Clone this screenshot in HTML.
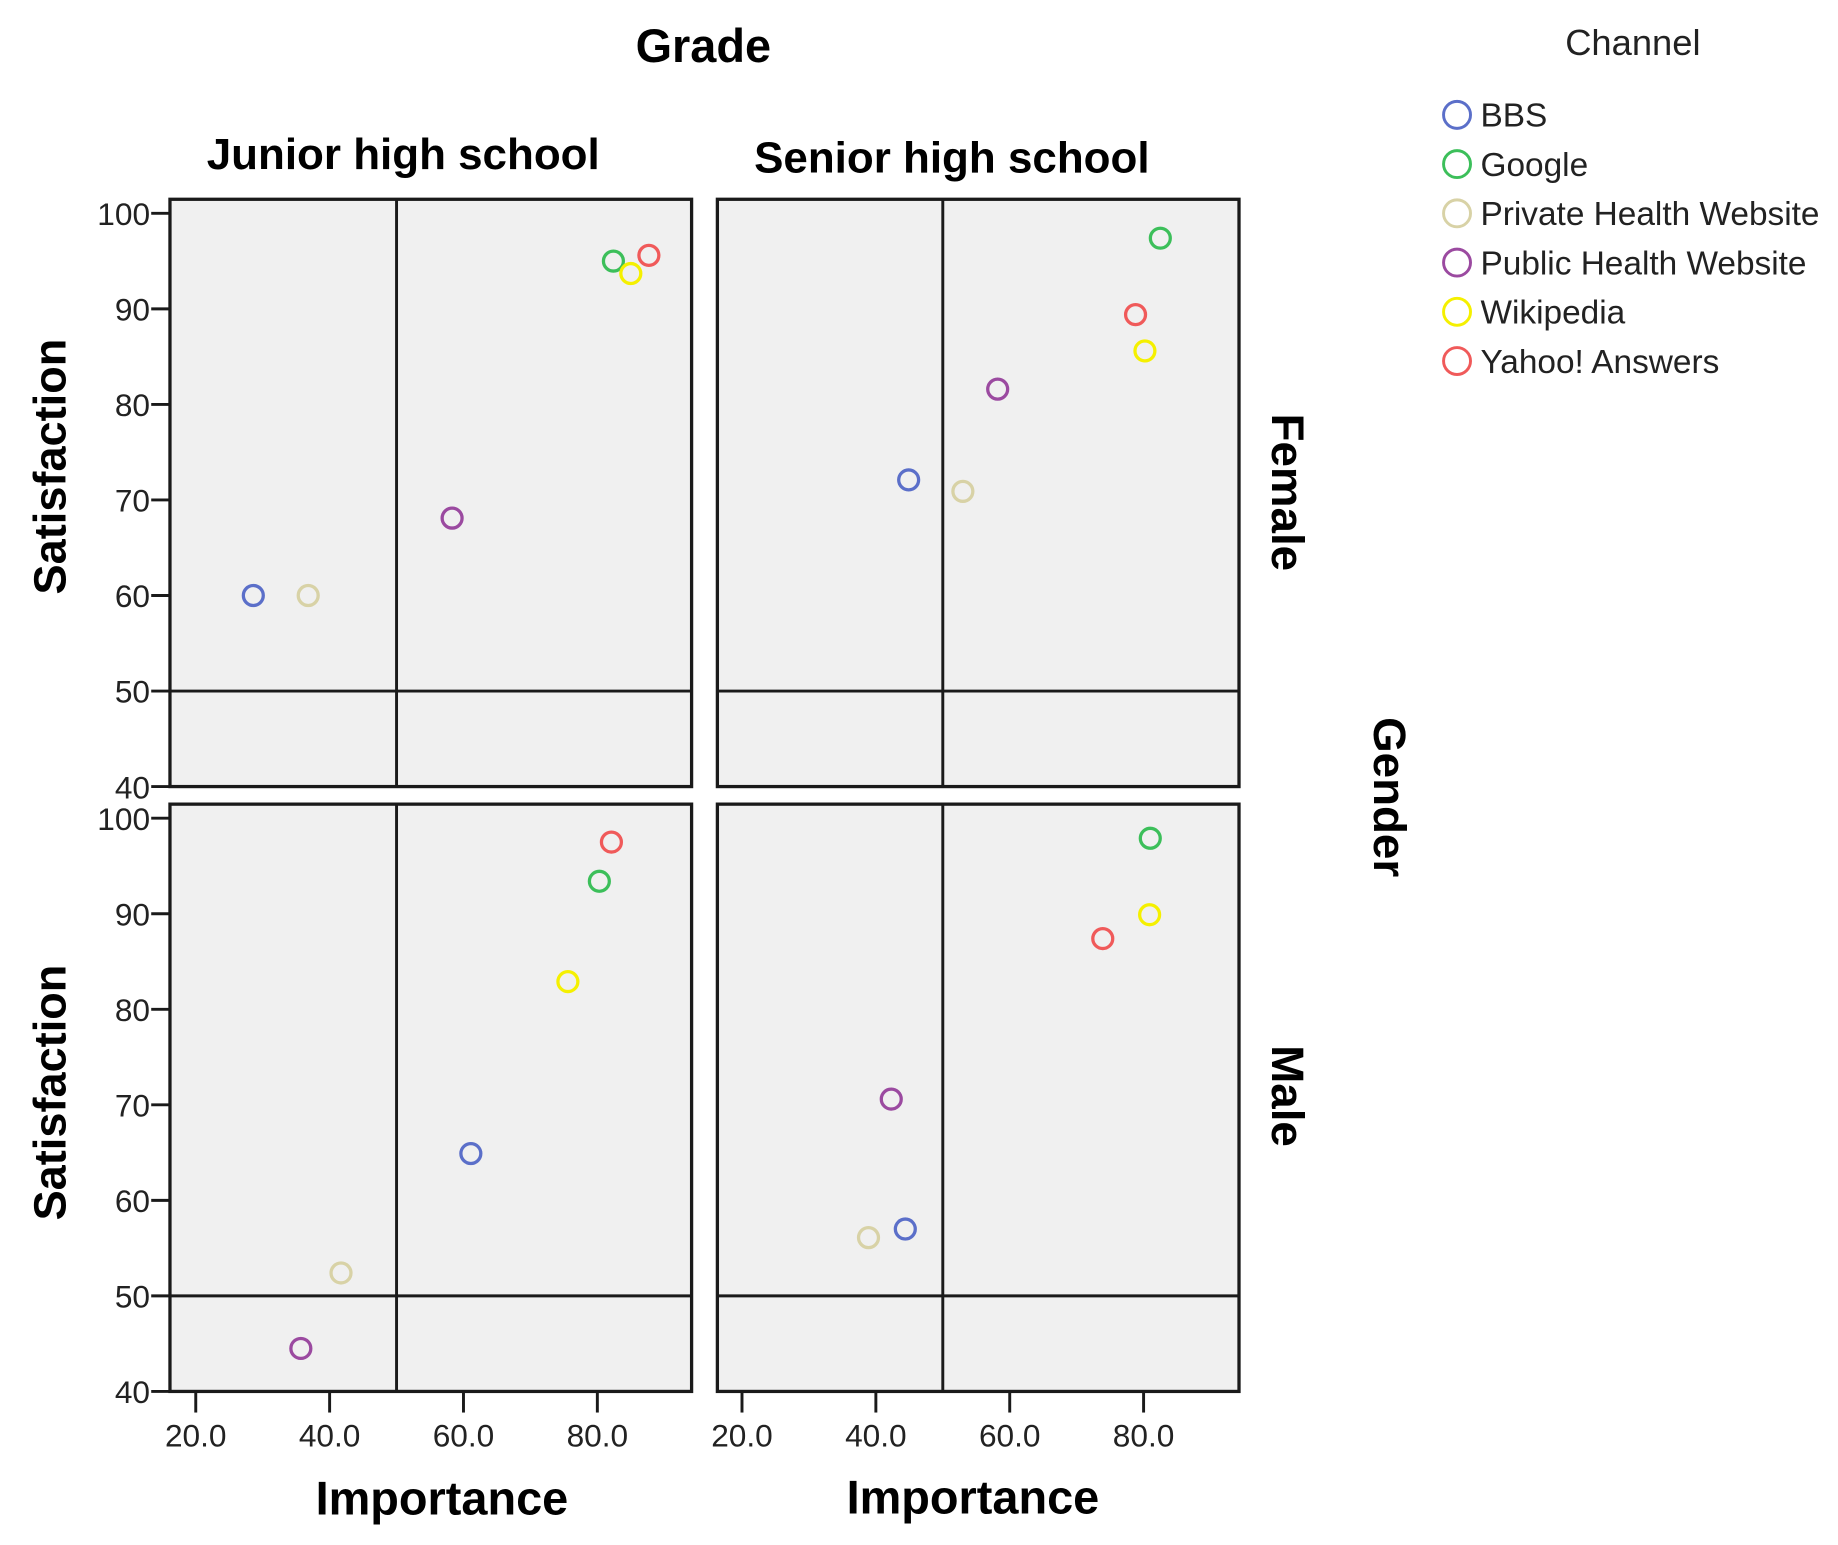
<!DOCTYPE html>
<html><head><meta charset="utf-8"><style>
html,body{margin:0;padding:0;background:#fff;}
svg{display:block;}
text{font-family:"Liberation Sans",sans-serif;}
</style></head><body>
<svg id="chart" width="1838" height="1545" viewBox="0 0 1568 1318" preserveAspectRatio="none" xmlns="http://www.w3.org/2000/svg">
<text x="600" y="53" font-size="40" font-weight="bold" text-anchor="middle">Grade</text>
<text x="344" y="144" font-size="37.5" font-weight="bold" text-anchor="middle">Junior high school</text>
<text x="812" y="147" font-size="37.5" font-weight="bold" text-anchor="middle">Senior high school</text>
<text transform="translate(1085,420) rotate(90)" font-size="39" font-weight="bold" text-anchor="middle">Female</text>
<text transform="translate(1085,935) rotate(90)" font-size="39" font-weight="bold" text-anchor="middle">Male</text>
<text transform="translate(1172,680) rotate(90)" font-size="39" font-weight="bold" text-anchor="middle">Gender</text>
<text transform="translate(56,398) rotate(-90)" font-size="38.5" font-weight="bold" text-anchor="middle">Satisfaction</text>
<text transform="translate(56,932) rotate(-90)" font-size="38.5" font-weight="bold" text-anchor="middle">Satisfaction</text>
<text x="377" y="1292" font-size="40" font-weight="bold" text-anchor="middle">Importance</text>
<text x="830" y="1291" font-size="40" font-weight="bold" text-anchor="middle">Importance</text>
<text x="1393" y="47" font-size="31" text-anchor="middle" fill="#222">Channel</text>
<g id="legend"></g>
<g id="panels"></g>
</svg>
<script>
const channels = ["BBS","Google","Private Health Website","Public Health Website","Wikipedia","Yahoo! Answers"];
const colors = ["#5b6fc9","#3cbf5a","#d8d2a6","#9b4aa0","#f5f000","#f05a5a"];
const xTicks = [20,40,60,80];
const xTickLabels = ["20.0","40.0","60.0","80.0"];
const yTicks = [40,50,60,70,80,90,100];
// order per channel: BBS, Google, Private, Public, Wikipedia, Yahoo
const juniorFemaleX = [28.6,82.4,36.8,58.3,85.0,87.7];
const juniorFemaleY = [60.0,95.0,60.0,68.1,93.7,95.6];
const seniorFemaleX = [44.9,82.5,53.0,58.2,80.2,78.8];
const seniorFemaleY = [72.1,97.4,70.9,81.6,85.6,89.4];
const juniorMaleX = [61.1,80.3,41.7,35.7,75.6,82.1];
const juniorMaleY = [64.9,93.4,52.4,44.5,82.9,97.5];
const seniorMaleX = [44.4,81.0,38.9,42.3,80.9,73.9];
const seniorMaleY = [57.0,97.9,56.1,70.6,89.9,87.4];

const NS="http://www.w3.org/2000/svg";
const pg=document.getElementById('panels');
function mk(tag,attrs,parent){const e=document.createElementNS(NS,tag);for(const k in attrs)e.setAttribute(k,attrs[k]);(parent||pg).appendChild(e);return e;}

const panels=[
 {name:"junior-female",left:145,top:170,xs:juniorFemaleX,ys:juniorFemaleY,yAxis:true,xAxis:false,x20:167},
 {name:"senior-female",left:612,top:170,xs:seniorFemaleX,ys:seniorFemaleY,yAxis:false,xAxis:false,x20:633},
 {name:"junior-male",left:145,top:686,xs:juniorMaleX,ys:juniorMaleY,yAxis:true,xAxis:true,x20:167},
 {name:"senior-male",left:612,top:686,xs:seniorMaleX,ys:seniorMaleY,yAxis:false,xAxis:true,x20:633}
];
const W=445,H=501,pxPerX=5.71,pxPerY=8.15;
panels.forEach(p=>{
 const bottom=p.top+H;
 const sx=v=>p.x20+(v-20)*pxPerX;
 const sy=v=>bottom-(v-40)*pxPerY;
 const g=mk('g',{});
 
 
 const r=mk('rect',{x:p.left,y:p.top,width:W,height:H,fill:"#f0f0f0",stroke:"#1a1a1a","stroke-width":2.8},g);
 
 
 const vl=mk('line',{x1:sx(50),x2:sx(50),y1:p.top,y2:bottom,stroke:"#1a1a1a","stroke-width":2.5},g);
 
 
 const hl=mk('line',{x1:p.left,x2:p.left+W,y1:sy(50),y2:sy(50),stroke:"#1a1a1a","stroke-width":2.5},g);
 
 
 if(p.yAxis){
  yTicks.forEach(t=>{
   const tl=mk('line',{x1:p.left-16,x2:p.left,y1:sy(t),y2:sy(t),stroke:"#1a1a1a","stroke-width":2.5},g);
   
   
   const tx=mk('text',{x:p.left-17,y:sy(t)+10,"font-size":27,"text-anchor":"end",fill:"#222"},g);
   tx.textContent=t;
   
   
  });
 }
 if(p.xAxis){
  xTicks.forEach((t,i)=>{
   const tl=mk('line',{x1:sx(t),x2:sx(t),y1:bottom,y2:bottom+18,stroke:"#1a1a1a","stroke-width":2.5},g);
   
   
   const tx=mk('text',{x:sx(t),y:bottom+47,"font-size":27,"text-anchor":"middle",fill:"#222"},g);
   tx.textContent=xTickLabels[i];
   
   
  });
 }
 p.xs.forEach((xv,i)=>{
  const c=mk('circle',{cx:sx(xv),cy:sy(p.ys[i]),r:8.5,fill:"none",stroke:colors[i],"stroke-width":2.8},g);
  
  
 });
});
const lg=document.getElementById('legend');
channels.forEach((ch,i)=>{
 const y=98+i*42;
 const c=mk('circle',{cx:1243,cy:y,r:11.5,fill:"none",stroke:colors[i],"stroke-width":2.5},lg);
 
 
 const t=mk('text',{x:1263,y:y+10,"font-size":28.5,fill:"#222"},lg);
 t.textContent=ch;
 
 
});
</script>
</body></html>
